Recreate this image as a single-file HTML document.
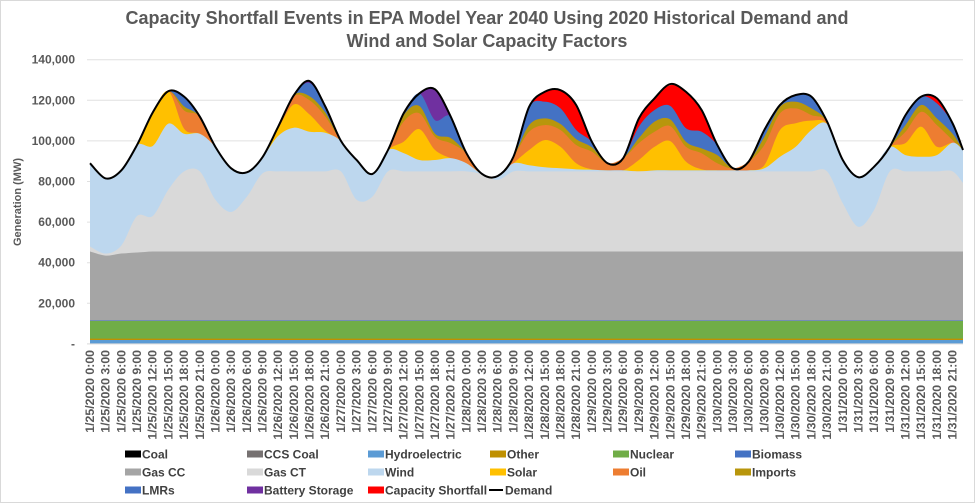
<!DOCTYPE html>
<html><head><meta charset="utf-8"><style>
body{margin:0;background:#fff;font-family:"Liberation Sans",Arial,sans-serif;}
svg{display:block}
</style></head><body>
<svg id="chart" width="975" height="503" viewBox="0 0 975 503" xmlns="http://www.w3.org/2000/svg">
<rect x="0.5" y="0.5" width="974" height="502" fill="#fff" stroke="#d9d9d9"/>
<text x="487" y="24" text-anchor="middle" font-size="18" font-weight="bold" fill="#595959">Capacity Shortfall Events in EPA Model Year 2040 Using 2020 Historical Demand and</text>
<text x="487" y="47" text-anchor="middle" font-size="18" font-weight="bold" fill="#595959">Wind and Solar Capacity Factors</text>
<text transform="translate(21,202) rotate(-90)" text-anchor="middle" font-size="11" font-weight="bold" fill="#595959">Generation (MW)</text>
<g id="grid"></g><g id="areas"></g><g id="demandg"></g><g id="yticks"></g><g id="xticks"></g><g id="legend"></g>
</svg>
<script>
const seriesNames = ["Coal","CCS Coal","Hydroelectric","Other","Nuclear","Biomass","Gas CC","Gas CT","Wind","Solar","Oil","Imports","LMRs","Battery Storage","Capacity Shortfall"];
const seriesColors = ["#000000","#767171","#5b9bd5","#bf9000","#70ad47","#4472c4","#a5a5a5","#d9d9d9","#bdd7ee","#ffc000","#ed7d31","#b8960c","#4472c4","#7030a0","#ff0000"];
const yTicks = [0,20000,40000,60000,80000,100000,120000,140000];
const yTickLabels = ["-","20,000","40,000","60,000","80,000","100,000","120,000","140,000"];
const dayLabels = ["1/25/2020","1/26/2020","1/27/2020","1/28/2020","1/29/2020","1/30/2020","1/31/2020"];
const hourLabels = ["0:00","3:00","6:00","9:00","12:00","15:00","18:00","21:00"];
const hours = [0,3,6,9,12,15,18,21,24,27,30,33,36,39,42,45,48,51,54,57,60,63,66,69,72,75,78,81,84,87,90,93,96,99,102,105,108,111,114,117,120,123,126,129,132,135,138,141,144,147,150,153,156,159,162,165,167];
const demand = [89000,81500,85500,98000,114000,124500,121800,112000,97000,86500,84500,92000,107000,122500,129500,117000,100000,90600,83700,95500,113600,123400,125400,112000,94000,83700,82700,92200,116800,124200,125000,117700,99600,89000,91500,111100,121000,128000,124200,115200,98000,86500,89800,105400,117700,122600,121800,109500,90600,82100,87300,97100,112700,121800,121000,108700,95500];
const coal = [0,0,0,0,0,0,0,0,0,0,0,0,0,0,0,0,0,0,0,0,0,0,0,0,0,0,0,0,0,0,0,0,0,0,0,0,0,0,0,0,0,0,0,0,0,0,0,0,0,0,0,0,0,0,0,0,0];
const ccsCoal = [200,200,200,200,200,200,200,200,200,200,200,200,200,200,200,200,200,200,200,200,200,200,200,200,200,200,200,200,200,200,200,200,200,200,200,200,200,200,200,200,200,200,200,200,200,200,200,200,200,200,200,200,200,200,200,200,200];
const hydro = [1700,1700,1700,1700,1700,1700,1700,1700,1700,1700,1700,1700,1700,1700,1700,1700,1700,1700,1700,1700,1700,1700,1700,1700,1700,1700,1700,1700,1700,1700,1700,1700,1700,1700,1700,1700,1700,1700,1700,1700,1700,1700,1700,1700,1700,1700,1700,1700,1700,1700,1700,1700,1700,1700,1700,1700,1700];
const other = [700,700,700,700,700,700,700,700,700,700,700,700,700,700,700,700,700,700,700,700,700,700,700,700,700,700,700,700,700,700,700,700,700,700,700,700,700,700,700,700,700,700,700,700,700,700,700,700,700,700,700,700,700,700,700,700,700];
const nuclear = [8700,8700,8700,8700,8700,8700,8700,8700,8700,8700,8700,8700,8700,8700,8700,8700,8700,8700,8700,8700,8700,8700,8700,8700,8700,8700,8700,8700,8700,8700,8700,8700,8700,8700,8700,8700,8700,8700,8700,8700,8700,8700,8700,8700,8700,8700,8700,8700,8700,8700,8700,8700,8700,8700,8700,8700,8700];
const biomass = [200,200,200,200,200,200,200,200,200,200,200,200,200,200,200,200,200,200,200,200,200,200,200,200,200,200,200,200,200,200,200,200,200,200,200,200,200,200,200,200,200,200,200,200,200,200,200,200,200,200,200,200,200,200,200,200,200];
const gasCC = [34000,32000,33000,33500,34000,34000,34000,34000,34000,34000,34000,34000,34000,34000,34000,34000,34000,34000,34000,34000,34000,34000,34000,34000,34000,34000,34000,34000,34000,34000,34000,34000,34000,34000,34000,34000,34000,34000,34000,34000,34000,34000,34000,34000,34000,34000,34000,34000,34000,34000,34000,34000,34000,34000,34000,34000,34000];
const gasCT = [2500,1000,4000,18000,17500,30500,39500,39500,25500,19500,27000,38500,39500,39500,39500,39500,39500,25500,27000,39500,39500,39500,39500,39500,39500,38200,35300,39500,39500,39500,39500,39500,39500,39500,39500,39500,39500,39500,39500,39500,39500,39500,39500,39500,39500,39500,39500,39500,23800,12200,20500,39500,39500,39500,39500,39500,33800];
const wind = [41000,37000,37000,35000,34500,32500,18500,18500,26000,21500,12000,8000,17500,21500,19500,19000,15000,19600,11200,10500,9000,5600,5600,6500,4000,0,1900,4000,3000,2000,1500,1000,800,500,500,0,500,500,500,500,500,500,500,1500,7200,12100,20400,23300,21300,24400,21300,12100,8000,7200,8000,14100,16200];
const solar = [0,0,0,0,16500,16000,2500,0,0,0,0,0,3500,11500,8500,1000,0,0,0,0,5600,15200,4900,0,0,0,0,0,7500,13400,10600,3000,200,0,0,5600,11600,14400,4300,500,0,0,0,1500,13200,11600,4600,0,0,0,0,0,5900,14800,4100,0,0];
const oil = [0,0,0,0,0,0,9000,8500,0,0,0,0,1000,4000,7000,7000,0,0,0,0,9900,7800,6500,7400,5000,0,0,3200,9000,7400,8300,9000,8700,3500,6000,8300,7400,7400,7300,7900,3500,1000,4300,10000,8200,7300,2700,1200,0,0,0,0,5600,7300,10700,1300,0];
const imports = [0,0,0,0,0,0,2000,0,0,0,0,0,0,500,2000,2000,0,0,0,0,3200,3600,1500,2500,0,0,0,0,3300,3300,2900,2900,2200,0,0,2500,5000,3300,2500,2400,4000,0,0,4000,3200,3300,3300,0,0,0,0,0,3300,3400,3300,3100,0];
const lmrs = [0,0,0,0,0,0,4800,0,0,0,0,0,0,0,6500,3000,0,0,0,0,900,6200,6700,10600,0,0,0,0,9000,8200,7700,4500,2700,0,0,5600,5700,6600,6600,8200,5000,0,0,3400,900,3300,5800,0,0,0,0,0,4900,4100,7400,5200,0];
const battery = [0,0,0,0,0,0,0,0,0,0,0,0,0,0,1000,0,0,0,0,0,0,0,15200,0,0,0,0,0,0,0,0,0,0,0,0,0,0,0,0,0,0,0,0,0,0,0,0,0,0,0,0,0,0,0,0,0,0];
const shortfall = [0,0,0,0,0,0,0,0,0,0,0,0,0,0,0,0,0,0,0,0,0,0,0,0,0,0,0,0,0,4900,9000,12300,0,0,0,4100,5800,10300,18000,10700,0,0,0,0,0,0,0,0,0,0,0,0,0,0,2500,0,0];

const NS="http://www.w3.org/2000/svg";
const X0=90,X1=963,Y0=343.9,Y1=59.7,HMAX=167,VMAX=140000;
const xs=h=>X0+(X1-X0)*h/HMAX;
const ys=v=>Y0-(Y0-Y1)*v/VMAX;
function mk(tag,attrs,parent){const e=document.createElementNS(NS,tag);for(const k in attrs)e.setAttribute(k,attrs[k]);parent.appendChild(e);return e;}
function smooth(pts){let d="M"+pts[0][0].toFixed(2)+","+pts[0][1].toFixed(2);
 for(let i=0;i<pts.length-1;i++){const p0=pts[Math.max(0,i-1)],p1=pts[i],p2=pts[i+1],p3=pts[Math.min(pts.length-1,i+2)];
  const t=0.16;const c1=[p1[0]+(p2[0]-p0[0])*t,p1[1]+(p2[1]-p0[1])*t];const c2=[p2[0]-(p3[0]-p1[0])*t,p2[1]-(p3[1]-p1[1])*t];
  d+="C"+c1[0].toFixed(2)+","+c1[1].toFixed(2)+" "+c2[0].toFixed(2)+","+c2[1].toFixed(2)+" "+p2[0].toFixed(2)+","+p2[1].toFixed(2);}
 return d;}
const grid=document.getElementById('grid'),yt=document.getElementById('yticks');
yTicks.forEach((v,i)=>{
 if(i>0){const g=mk('line',{x1:X0-3,x2:X1,y1:ys(v),y2:ys(v),stroke:'#e0e0e0','stroke-width':1},grid);
 
 }
 const t=mk('text',{x:75,y:ys(v)+4,'text-anchor':'end','font-size':12,'font-weight':'bold',fill:'#595959'},yt);
 t.textContent=yTickLabels[i];
 
 
});
const series=[coal,ccsCoal,hydro,other,nuclear,biomass,gasCC,gasCT,wind,solar,oil,imports,lmrs,battery,shortfall];
const cum=[];let run=hours.map(()=>0);
series.forEach(s=>{run=run.map((v,i)=>v+s[i]);cum.push(run.slice());});
const areas=document.getElementById('areas');
for(let k=series.length-1;k>=0;k--){
 const pts=hours.map((h,i)=>[xs(h),ys(cum[k][i])]);
 const d=smooth(pts)+"L"+xs(hours[hours.length-1])+","+Y0+"L"+xs(hours[0])+","+Y0+"Z";
 const p=mk('path',{d:d,fill:seriesColors[k]},areas);
 
 
}
mk('line',{x1:X0-3,x2:X1,y1:Y0,y2:Y0,stroke:'#d9d9d9'},areas);
const dl=mk('path',{d:smooth(hours.map((h,i)=>[xs(h),ys(demand[i])])),fill:'none',stroke:'#000','stroke-width':2},document.getElementById('demandg'));


const xt=document.getElementById('xticks');
for(let d=0;d<dayLabels.length;d++)for(let j=0;j<hourLabels.length;j++){
 const h=d*24+j*3;const x=xs(h);
 const t=mk('text',{transform:`translate(${(x+4).toFixed(1)},350) rotate(-90)`,'text-anchor':'end','font-size':12.3,'font-weight':'bold',fill:'#595959'},xt);
 t.textContent=dayLabels[d]+" "+hourLabels[j];
 
 
}
const legendItems=[["Coal",0,125,454],["CCS Coal",1,247,454],["Hydroelectric",2,368,454],["Other",3,490,454],["Nuclear",4,613,454],["Biomass",5,735,454],
["Gas CC",6,125,472],["Gas CT",7,247,472],["Wind",8,368,472],["Solar",9,490,472],["Oil",10,613,472],["Imports",11,735,472],
["LMRs",12,125,490],["Battery Storage",13,247,490],["Capacity Shortfall",14,368,490]];
const lg=document.getElementById('legend');
legendItems.forEach(it=>{
 const g=mk('g',{},lg);
 
 
 mk('rect',{x:it[2],y:it[3]-3.5,width:16,height:7,fill:seriesColors[it[1]]},g);
 const t=mk('text',{x:it[2]+17,y:it[3]+4.5,'font-size':12,'font-weight':'bold',fill:'#404040'},g);t.textContent=it[0];
});
const gd=mk('g',{},lg);


mk('line',{x1:489,x2:503,y1:490,y2:490,stroke:'#000','stroke-width':2},gd);
const td=mk('text',{x:505,y:494.5,'font-size':12,'font-weight':'bold',fill:'#404040'},gd);td.textContent="Demand";
</script>
</body></html>
